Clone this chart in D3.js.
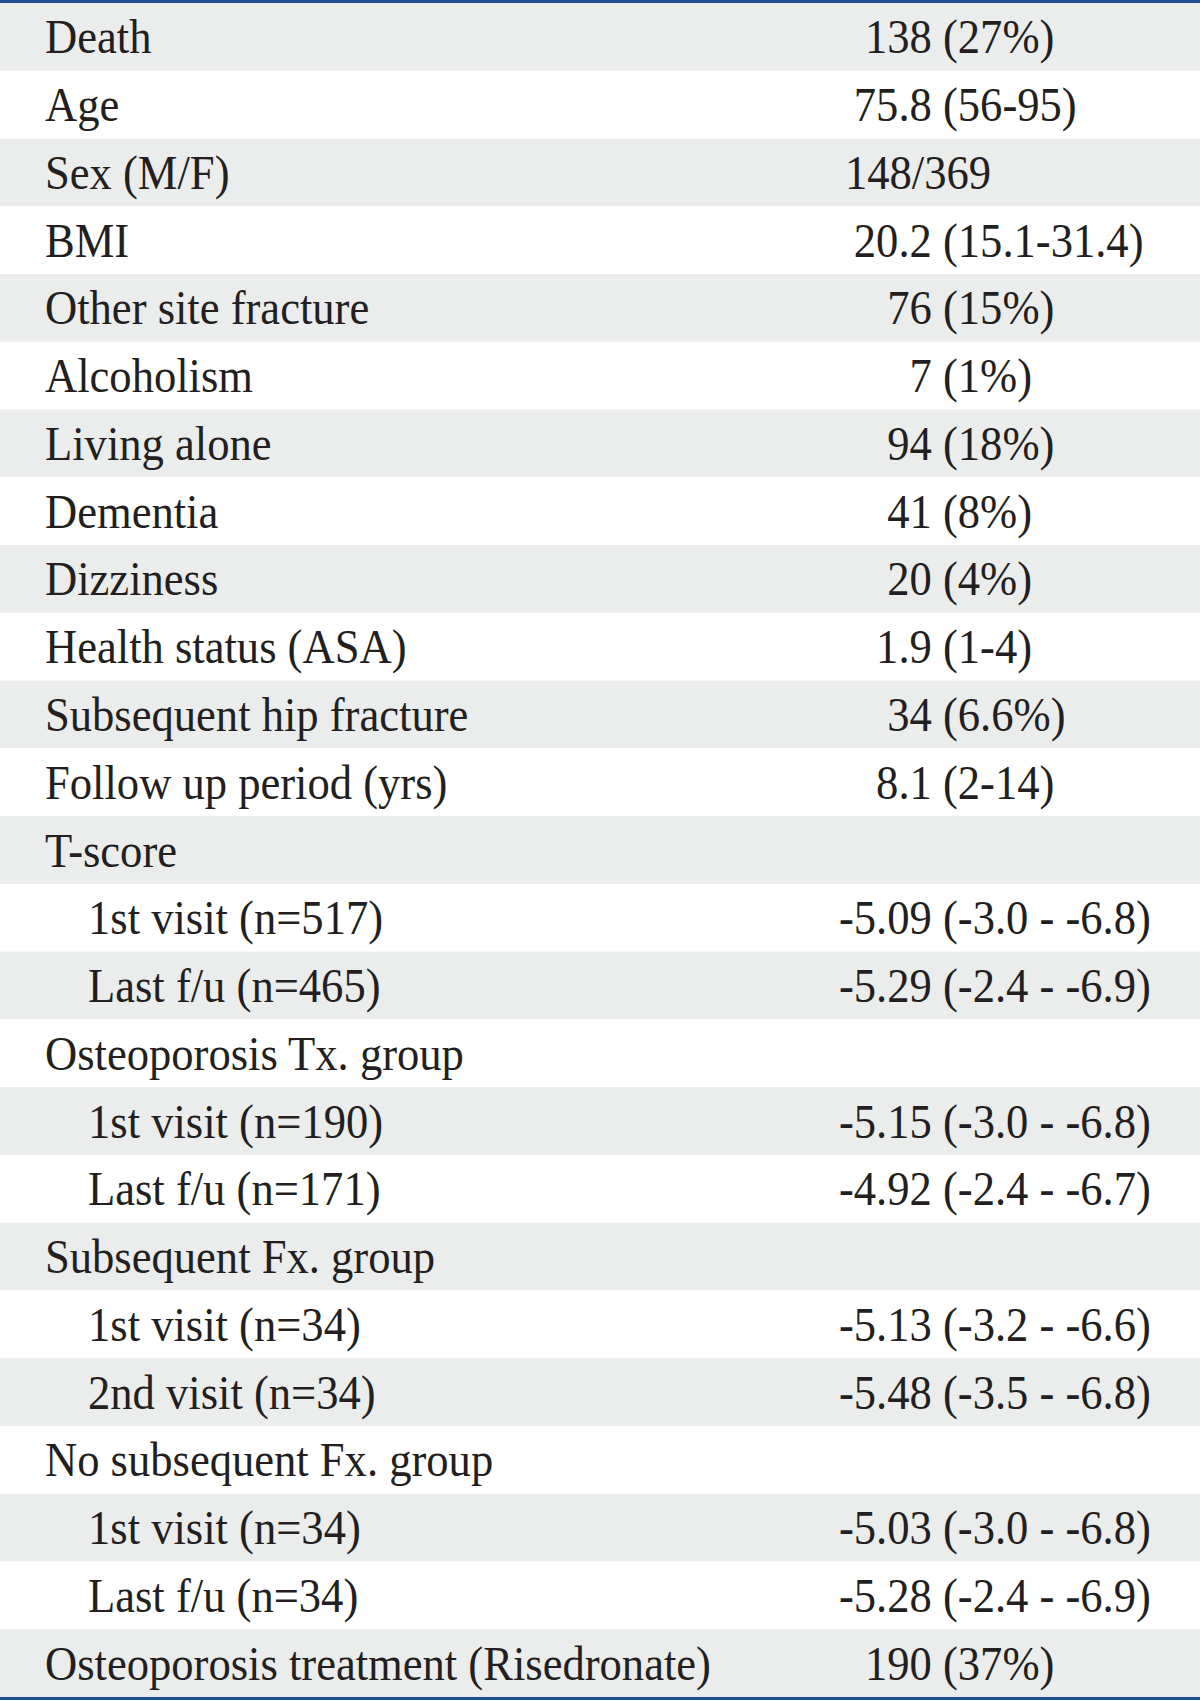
<!DOCTYPE html>
<html>
<head>
<meta charset="utf-8">
<script src="https://cdn.jsdelivr.net/npm/d3@7"></script>
<style>
  html, body { margin: 0; padding: 0; background: #ffffff; }
  svg { display: block; }
  text { font-family: "Liberation Serif", "Times New Roman", serif; fill: #231f20; white-space: pre; }
</style>
</head>
<body>
<svg id="chart" width="1200" height="1701"></svg>
<script>
// ---- data ----
const labels = [
  "Death", "Age", "Sex (M/F)", "BMI", "Other site fracture", "Alcoholism",
  "Living alone", "Dementia", "Dizziness", "Health status (ASA)",
  "Subsequent hip fracture", "Follow up period (yrs)", "T-score",
  "1st visit (n=517)", "Last f/u (n=465)", "Osteoporosis Tx. group",
  "1st visit (n=190)", "Last f/u (n=171)", "Subsequent Fx. group",
  "1st visit (n=34)", "2nd visit (n=34)", "No subsequent Fx. group",
  "1st visit (n=34)", "Last f/u (n=34)", "Osteoporosis treatment (Risedronate)"
];
const indentLevels = [0,0,0,0,0,0,0,0,0,0,0,0,0,1,1,0,1,1,0,1,1,0,1,1,0];
const values = [
  "138 (27%)", "75.8 (56-95)", "148/369", "20.2 (15.1-31.4)", "76 (15%)",
  "7 (1%)", "94 (18%)", "41 (8%)", "20 (4%)", "1.9 (1-4)", "34 (6.6%)",
  "8.1 (2-14)", "", "-5.09 (-3.0 - -6.8)", "-5.29 (-2.4 - -6.9)", "",
  "-5.15 (-3.0 - -6.8)", "-4.92 (-2.4 - -6.7)", "", "-5.13 (-3.2 - -6.6)",
  "-5.48 (-3.5 - -6.8)", "", "-5.03 (-3.0 - -6.8)", "-5.28 (-2.4 - -6.9)",
  "190 (37%)"
];

// ---- layout ----
const W = 1200, H = 1701;
const lineW = 3;
const fontSize = 49, sx = 0.91;
const labelX = 45, indentX = 88;
const parenX = 943, plainX = 845;
const stripe = "#ebecec";
const rule = "#1d4f91";

const svg = d3.select("#chart");
const idx = d3.range(labels.length);
const y = d3.scaleBand().domain(idx).range([lineW, H - 4]).paddingInner(0).paddingOuter(0);

// stripes
svg.append("g").selectAll("rect").data(idx).join("rect")
  .attr("x", 0).attr("y", d => y(d)).attr("width", W).attr("height", y.bandwidth())
  .attr("fill", d => d % 2 === 0 ? stripe : "#ffffff");

// rules
svg.append("rect").attr("x", 0).attr("y", 0).attr("width", W).attr("height", lineW).attr("fill", rule);
svg.append("rect").attr("x", 0).attr("y", y.range()[1]).attr("width", W).attr("height", lineW).attr("fill", rule);

const baseOff = 16.5;

// labels
svg.append("g").selectAll("text").data(idx).join("text")
  .attr("transform", d => `translate(${indentLevels[d] ? indentX : labelX},${y(d) + y.bandwidth()/2 + baseOff}) scale(${sx},1)`)
  .attr("font-size", fontSize)
  .text(d => labels[d]);

// measure helper
const meas = svg.append("text").attr("font-size", fontSize).attr("visibility", "hidden");
function widthOf(s) { meas.text(s); return meas.node().getComputedTextLength() * sx; }

svg.append("g").selectAll("text").data(idx.filter(d => values[d] !== "")).join("text")
  .attr("transform", d => {
    const v = values[d];
    const p = v.indexOf("(");
    const x = p >= 0 ? parenX - widthOf(v.slice(0, p)) : plainX;
    return `translate(${x},${y(d) + y.bandwidth()/2 + baseOff}) scale(${sx},1)`;
  })
  .attr("font-size", fontSize)
  .text(d => values[d]);
meas.remove();
</script>
</body>
</html>
